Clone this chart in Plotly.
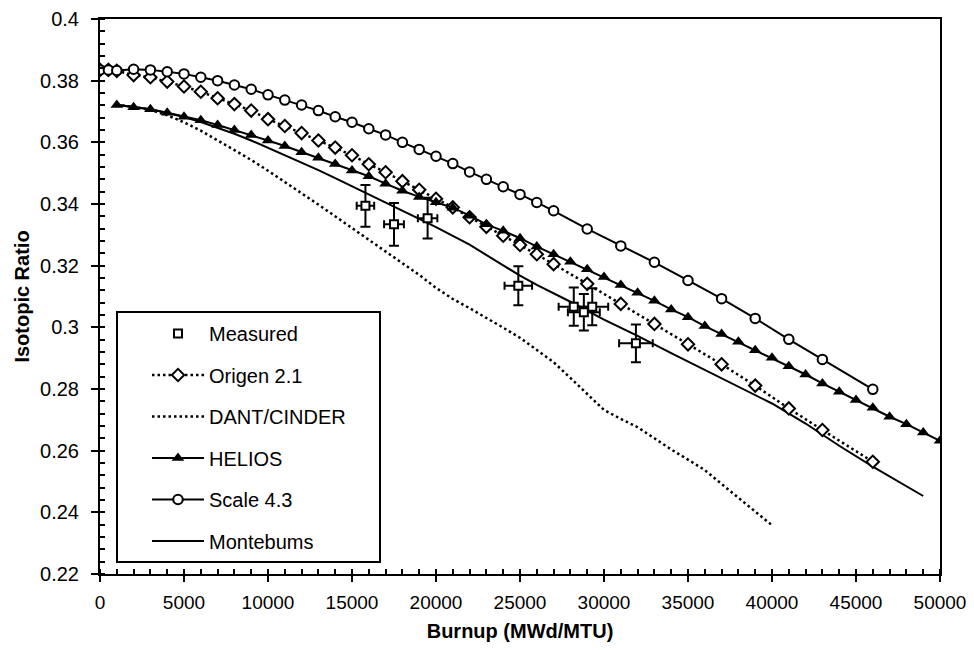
import plotly.graph_objects as go

# ---------------- data ----------------
meas_x = [15800, 17500, 19500, 24900, 28200, 28800, 29300, 31900]
meas_y = [0.3394, 0.3334, 0.3354, 0.3135, 0.3067, 0.3049, 0.3067, 0.2948]
meas_xerr = [520, 590, 580, 820, 900, 950, 950, 1000]
meas_yerr = [0.0068, 0.0069, 0.0066, 0.0063, 0.0062, 0.0059, 0.0060, 0.0061]

origen_x = [0, 500, 1000, 2000, 3000, 4000, 5000, 6000, 7000, 8000, 9000, 10000,
            11000, 12000, 13000, 14000, 15000, 16000, 17000, 18000, 19000, 20000,
            21000, 22000, 23000, 24000, 25000, 26000, 27000, 29000, 31000, 33000,
            35000, 37000, 39000, 41000, 43000, 46000]
origen_y = [0.3835, 0.3835, 0.3832, 0.3818, 0.3811, 0.3797, 0.3781, 0.3764, 0.3743,
            0.3724, 0.3703, 0.3675, 0.3653, 0.3630, 0.3606, 0.3583, 0.3558, 0.3529,
            0.3503, 0.3474, 0.3446, 0.3417, 0.3389, 0.3357, 0.3326, 0.3297, 0.3267,
            0.3237, 0.3205, 0.3141, 0.3076, 0.3011, 0.2945, 0.2880, 0.2811, 0.2737,
            0.2667, 0.2564]

dant_x = [1000, 2000, 3000, 4000, 5000, 6000, 7000, 8000, 9000, 10000,
          11000, 12000, 13000, 14000, 15000, 16000, 17000, 18000, 19000, 20000,
          21000, 22000, 23000, 24000, 25000, 26000, 27000, 28000, 29000, 30000,
          31000, 32000, 33000, 34000, 35000, 36000, 37000, 38000, 39000, 40000]
dant_y = [0.3722, 0.3715, 0.3705, 0.3688, 0.3665, 0.3638, 0.3606, 0.3575, 0.3543, 0.3508,
          0.3472, 0.3436, 0.3398, 0.3360, 0.3322, 0.3285, 0.3247, 0.3209, 0.3170, 0.3128,
          0.3092, 0.3062, 0.3031, 0.2999, 0.2966, 0.2926, 0.2887, 0.2836, 0.2784, 0.2732,
          0.2703, 0.2676, 0.2640, 0.2604, 0.2571, 0.2537, 0.2492, 0.2448, 0.2403, 0.2358]

helios_x = [1000, 2000, 3000, 4000, 5000, 6000, 7000, 8000, 9000, 10000,
            11000, 12000, 13000, 14000, 15000, 16000, 17000, 18000, 19000, 20000,
            21000, 22000, 23000, 24000, 25000, 26000, 27000, 28000, 29000, 30000,
            31000, 32000, 33000, 34000, 35000, 36000, 37000, 38000, 39000, 40000,
            41000, 42000, 43000, 44000, 45000, 46000, 47000, 48000, 49000, 50000]
helios_y = [0.3721, 0.3714, 0.3707, 0.3696, 0.3683, 0.3672, 0.3656, 0.3640, 0.3624, 0.3606,
            0.3588, 0.3568, 0.3550, 0.3530, 0.3509, 0.3490, 0.3466, 0.3443, 0.3423, 0.3406,
            0.3388, 0.3362, 0.3334, 0.3313, 0.3289, 0.3262, 0.3237, 0.3213, 0.3188, 0.3163,
            0.3137, 0.3112, 0.3086, 0.3058, 0.3033, 0.3004, 0.2978, 0.2953, 0.2926, 0.2901,
            0.2874, 0.2847, 0.2818, 0.2791, 0.2764, 0.2739, 0.2710, 0.2686, 0.2659, 0.2632]

scale_x = [0, 500, 1000, 2000, 3000, 4000, 5000, 6000, 7000, 8000, 9000, 10000,
           11000, 12000, 13000, 14000, 15000, 16000, 17000, 18000, 19000, 20000,
           21000, 22000, 23000, 24000, 25000, 26000, 27000, 29000, 31000, 33000,
           35000, 37000, 39000, 41000, 43000, 46000]
scale_y = [0.3835, 0.3835, 0.3833, 0.3837, 0.3835, 0.3829, 0.3822, 0.3811, 0.3800,
           0.3786, 0.3772, 0.3754, 0.3737, 0.3721, 0.3703, 0.3683, 0.3665, 0.3644,
           0.3624, 0.3600, 0.3577, 0.3555, 0.3531, 0.3504, 0.3480, 0.3456, 0.3431,
           0.3405, 0.3378, 0.3319, 0.3264, 0.3211, 0.3152, 0.3093, 0.3029, 0.2961,
           0.2896, 0.2799]

monte_x = [1000, 2000, 3000, 4000, 5000, 6000, 7000, 8000, 9000, 10000,
           11000, 12000, 13000, 14000, 15000, 16000, 17000, 18000, 19000, 20000,
           22000, 24000, 25000, 26000, 28000, 30000, 32000, 34000, 36000, 38000,
           40000, 42000, 44000, 46000, 48000, 49000]
monte_y = [0.3722, 0.3715, 0.3707, 0.3695, 0.3682, 0.3666, 0.3648, 0.3628, 0.3606, 0.3582,
           0.3558, 0.3535, 0.3510, 0.3484, 0.3458, 0.3432, 0.3405, 0.3378, 0.3352, 0.3325,
           0.3268, 0.3201, 0.3168, 0.3138, 0.3083, 0.3025, 0.2972, 0.2916, 0.2862, 0.2808,
           0.2753, 0.2688, 0.2616, 0.2548, 0.2484, 0.2453]

x_tickvals = [0, 5000, 10000, 15000, 20000, 25000, 30000, 35000, 40000, 45000, 50000]
x_ticktext = ["0", "5000", "10000", "15000", "20000", "25000", "30000", "35000",
              "40000", "45000", "50000"]
y_tickvals = [0.22, 0.24, 0.26, 0.28, 0.30, 0.32, 0.34, 0.36, 0.38, 0.40]
y_ticktext = ["0.22", "0.24", "0.26", "0.28", "0.3", "0.32", "0.34", "0.36", "0.38", "0.4"]

# ---------------- figure ----------------
FONT = "Liberation Sans, Arial, sans-serif"
BLACK = "black"

fig = go.Figure()

fig.add_trace(go.Scatter(
    x=monte_x, y=monte_y, mode="lines", name="Montebums",
    line=dict(color=BLACK, width=2), legendgroup="g6", legendrank=6))

fig.add_trace(go.Scatter(
    x=dant_x, y=dant_y, mode="lines", name="DANT/CINDER",
    line=dict(color=BLACK, width=2.5, dash="2.5px,3px"), legendgroup="g3", legendrank=3))

fig.add_trace(go.Scatter(
    x=origen_x, y=origen_y, mode="lines+markers", name="Origen 2.1",
    line=dict(color=BLACK, width=2.5, dash="2.5px,3px"),
    marker=dict(symbol="diamond", size=9.5, color="white", line=dict(color=BLACK, width=2)),
    legendgroup="g2", legendrank=2))

fig.add_trace(go.Scatter(
    x=helios_x, y=helios_y, mode="lines+markers", name="HELIOS",
    line=dict(color=BLACK, width=2),
    marker=dict(symbol="triangle-up", size=11, color=BLACK, line=dict(color=BLACK, width=0)),
    legendgroup="g4", legendrank=4))

fig.add_trace(go.Scatter(
    x=scale_x, y=scale_y, mode="lines+markers", name="Scale 4.3",
    line=dict(color=BLACK, width=2),
    marker=dict(symbol="circle", size=9.5, color="white", line=dict(color=BLACK, width=2)),
    legendgroup="g5", legendrank=5))

fig.add_trace(go.Scatter(
    x=meas_x, y=meas_y, mode="markers", name="Measured",
    marker=dict(symbol="square", size=8, color="white", line=dict(color=BLACK, width=2)),
    error_x=dict(type="data", array=meas_xerr, color=BLACK, thickness=2, width=4),
    error_y=dict(type="data", array=meas_yerr, color=BLACK, thickness=2, width=5),
    legendgroup="g1", legendrank=1))

# The page body adds an 8 px offset; target screen plot area is x 100..940, y 19..574.
OFF = 8
FW, FH = 974 - OFF, 650 - 2 * OFF
L, T = 100 - OFF, 19 - OFF
R = FW - L - 840
B = FH - T - 555
PW, PH = FW - L - R, FH - T - B

def px2paper_x(px):  # screen px -> paper fraction
    return (px - OFF - L) / PW

def py2paper_y(py):
    return (FH - B - (py - OFF)) / PH

fig.update_layout(
    width=FW, height=FH,
    margin=dict(l=L, r=R, t=T, b=B, autoexpand=False),
    paper_bgcolor="white", plot_bgcolor="white",
    font=dict(family=FONT, size=20, color=BLACK),
    showlegend=True,
    legend=dict(
        x=px2paper_x(147), y=py2paper_y(314), xanchor="left", yanchor="top",
        bgcolor="rgba(0,0,0,0)", borderwidth=0,
        font=dict(family=FONT, size=20, color=BLACK),
        tracegroupgap=12.5, itemwidth=52, traceorder="grouped",
    ),
    shapes=[dict(
        type="rect", xref="paper", yref="paper",
        x0=px2paper_x(117), x1=px2paper_x(380),
        y0=py2paper_y(562), y1=py2paper_y(312),
        line=dict(color=BLACK, width=2), fillcolor="rgba(0,0,0,0)", layer="above")],
)

fig.update_xaxes(
    range=[0, 50000], showgrid=False, zeroline=False, automargin=False,
    showline=True, linecolor=BLACK, linewidth=2, mirror=True,
    tickmode="array", tickvals=x_tickvals, ticktext=x_ticktext,
    ticks="outside", ticklen=6, tickwidth=1.5, tickcolor=BLACK,
    ticklabelstandoff=4,
    tickfont=dict(family=FONT, size=19, color=BLACK),
    minor=dict(ticks="inside", dtick=1000, tick0=0, ticklen=5, tickwidth=1.5,
               tickcolor=BLACK, showgrid=False),
    title=dict(text="<b>Burnup (MWd/MTU)</b>", font=dict(family=FONT, size=20, color=BLACK),
               standoff=12),
)
fig.update_yaxes(
    range=[0.22, 0.40], showgrid=False, zeroline=False, automargin=False,
    showline=True, linecolor=BLACK, linewidth=2, mirror=True,
    tickmode="array", tickvals=y_tickvals, ticktext=y_ticktext,
    ticks="outside", ticklen=7, tickwidth=1.5, tickcolor=BLACK,
    ticklabelstandoff=8,
    tickfont=dict(family=FONT, size=20, color=BLACK),
    minor=dict(ticks="inside", dtick=0.004, tick0=0.22, ticklen=5, tickwidth=1.5,
               tickcolor=BLACK, showgrid=False),
    title=dict(text="<b>Isotopic Ratio</b>", font=dict(family=FONT, size=20, color=BLACK),
               standoff=5),
)

fig.write_html("out.html")
